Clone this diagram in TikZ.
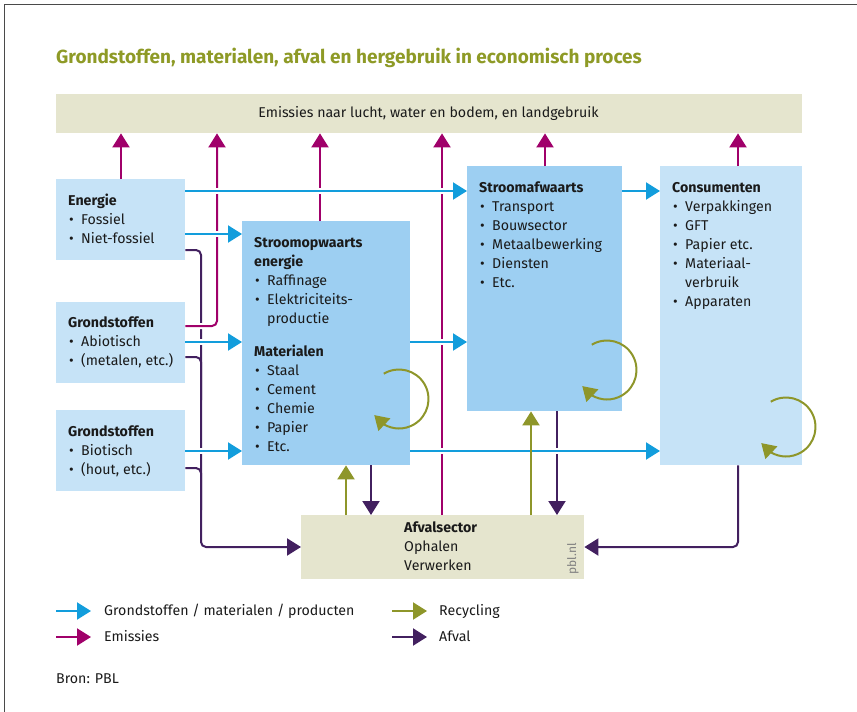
\documentclass[tikz,border=0pt]{standalone}
\usepackage{fontspec}
\setmainfont{Fira Sans}
\usetikzlibrary{arrows.meta,bending}
\definecolor{ltblue}{HTML}{C6E3F7}
\definecolor{dkblue}{HTML}{9DCFF2}
\definecolor{beige}{HTML}{E5E5CE}
\definecolor{flowc}{HTML}{129DDC}
\definecolor{emic}{HTML}{A0006A}
\definecolor{recc}{HTML}{8E962A}
\definecolor{afvc}{HTML}{42205F}
\definecolor{titlec}{HTML}{8E9A26}
\definecolor{txtc}{HTML}{1A1A1A}
\definecolor{framec}{HTML}{4A4A4A}
\newcommand\bodyfont{\fontsize{14.2}{17}\selectfont}
\begin{document}
\begin{tikzpicture}[x=1pt,y=1pt,
  tx/.style={anchor=base west, inner sep=0, font=\bodyfont, text=txtc},
  hd/.style={tx, font=\bodyfont\bfseries},
  boxnode/.style={anchor=north west, inner sep=0, draw=none},
  lb/.style={boxnode, fill=ltblue},
  db/.style={boxnode, fill=dkblue},
  bg/.style={boxnode, fill=beige},
  tip/.style={-{Triangle[length=14pt,width=17pt]}},
  flow/.style={draw=flowc, line width=2pt, tip, preaction={draw=white, line width=6pt, -}},
  emi/.style={draw=emic, line width=2pt, tip, preaction={draw=white, line width=6pt, -}},
  rec/.style={draw=recc, line width=2pt, tip},
  afv/.style={draw=afvc, line width=2pt, tip},
  afvline/.style={draw=afvc, line width=2pt},
]
\useasboundingbox (0,0) rectangle (857,-712);
\draw[framec, line width=1.5pt] (4.5,-712) -- (4.5,-4.5) -- (857,-4.5);

% title
\node[anchor=base west, inner sep=0, font=\fontsize{19}{22}\selectfont\bfseries, text=titlec] (title) at (56,-63) {Grondstoffen, materialen, afval en hergebruik in economisch proces};

% boxes
\node[bg, minimum width=746, minimum height=39] (band) at (56,-94) {};
\node[lb, minimum width=129, minimum height=81] (energie) at (56,-179) {};
\node[lb, minimum width=129, minimum height=81] (abio) at (56,-302) {};
\node[lb, minimum width=129, minimum height=81] (bio) at (56,-410) {};
\node[db, minimum width=168, minimum height=244] (sop) at (242,-221) {};
\node[db, minimum width=155, minimum height=245] (saf) at (467,-166) {};
\node[lb, minimum width=142, minimum height=299] (con) at (660,-166) {};
\node[bg, minimum width=283, minimum height=64] (afval) at (301,-515) {};

% waste (afval) lines
\draw[afv, rounded corners=5pt] (energie.east |- 0,-250) -- (201,-250) -- (201,-547) -- (afval.west |- 0,-547);
\draw[afvline, rounded corners=5pt] (abio.east |- 0,-357) -- (201,-357) -- (201,-400);
\draw[afvline, rounded corners=5pt] (bio.east |- 0,-468) -- (201,-468) -- (201,-510);
\draw[afv] (sop.south -| 371,0) -- (afval.north -| 371,0);
\draw[afv] (saf.south -| 557,0) -- (afval.north -| 557,0);
\draw[afv, rounded corners=5pt] (con.south -| 738,0) -- (738,-547) -- (afval.east |- 0,-547);

% emissions
\draw[emi] (energie.north -| 121,0) -- (band.south -| 121,0);
\draw[emi, rounded corners=5pt] (abio.east |- 0,-326) -- (217,-326) -- (band.south -| 217,0);
\draw[emi] (sop.north -| 320,0) -- (band.south -| 320,0);
\draw[emi] (afval.north -| 442,0) -- (band.south -| 442,0);
\draw[emi] (saf.north -| 545,0) -- (band.south -| 545,0);
\draw[emi] (con.north -| 738,0) -- (band.south -| 738,0);

% material flows
\draw[flow] (energie.east |- 0,-191) -- (saf.west |- 0,-191);
\draw[flow] (energie.east |- 0,-234) -- (sop.west |- 0,-234);
\draw[flow] (abio.east |- 0,-342) -- (sop.west |- 0,-342);
\draw[flow] (bio.east |- 0,-451) -- (sop.west |- 0,-451);
\draw[flow] (sop.east |- 0,-342) -- (saf.west |- 0,-342);
\draw[flow] (saf.east |- 0,-191) -- (con.west |- 0,-191);
\draw[flow] (sop.east |- 0,-451) -- (con.west |- 0,-451);

% recycling
\draw[rec] (afval.north -| 346,0) -- (sop.south -| 346,0);
\draw[rec] (afval.north -| 531,0) -- (saf.south -| 531,0);
\coordinate (c1) at (399,-399);
\coordinate (c2) at (607,-370);
\coordinate (c3) at (786,-427);
\draw[rec] (c1) ++(121:29.5) arc[start angle=121, end angle=-147, radius=29.5];
\draw[rec] (c2) ++(121:29.5) arc[start angle=121, end angle=-147, radius=29.5];
\draw[rec] (c3) ++(121:29.5) arc[start angle=121, end angle=-147, radius=29.5];

% texts
\node[tx, anchor=base] (bandt) at (428.5,-117) {Emissies naar lucht, water en bodem, en landgebruik};

\node[hd] (t1) at (68,-205) {Energie};
\node[tx] (t1a) at (69,-224) {•}; \node[tx] (t1b) at (81,-224) {Fossiel};
\node[tx] (t1c) at (69,-243) {•}; \node[tx] (t1d) at (81,-243) {Niet-fossiel};

\node[hd] (t2) at (68,-327) {Grondstoffen};
\node[tx] (t2a) at (69,-346) {•}; \node[tx] (t2b) at (81,-346) {Abiotisch};
\node[tx] (t2c) at (69,-365) {•}; \node[tx] (t2d) at (81,-365) {(metalen, etc.)};

\node[hd] (t3) at (68,-436) {Grondstoffen};
\node[tx] (t3a) at (69,-455) {•}; \node[tx] (t3b) at (81,-455) {Biotisch};
\node[tx] (t3c) at (69,-474) {•}; \node[tx] (t3d) at (81,-474) {(hout, etc.)};

\node[hd] (t4) at (254,-247) {Stroomopwaarts};
\node[hd] (t4x) at (254,-266) {energie};
\node[tx] (t4a) at (255,-285) {•}; \node[tx] (t4b) at (267,-285) {Raffinage};
\node[tx] (t4c) at (255,-304) {•}; \node[tx] (t4d) at (267,-304) {Elektriciteits-};
\node[tx] (t4e) at (267,-323) {productie};
\node[hd] (t5) at (254,-356) {Materialen};
\node[tx] (t5a) at (255,-375) {•}; \node[tx] (t5b) at (267,-375) {Staal};
\node[tx] (t5c) at (255,-394) {•}; \node[tx] (t5d) at (267,-394) {Cement};
\node[tx] (t5e) at (255,-413) {•}; \node[tx] (t5f) at (267,-413) {Chemie};
\node[tx] (t5g) at (255,-432) {•}; \node[tx] (t5h) at (267,-432) {Papier};
\node[tx] (t5i) at (255,-451) {•}; \node[tx] (t5j) at (267,-451) {Etc.};

\node[hd] (t6) at (479,-192) {Stroomafwaarts};
\node[tx] (t6a) at (480,-211) {•}; \node[tx] (t6b) at (492,-211) {Transport};
\node[tx] (t6c) at (480,-230) {•}; \node[tx] (t6d) at (492,-230) {Bouwsector};
\node[tx] (t6e) at (480,-249) {•}; \node[tx] (t6f) at (492,-249) {Metaalbewerking};
\node[tx] (t6g) at (480,-268) {•}; \node[tx] (t6h) at (492,-268) {Diensten};
\node[tx] (t6i) at (480,-287) {•}; \node[tx] (t6j) at (492,-287) {Etc.};

\node[hd] (t7) at (672,-192) {Consumenten};
\node[tx] (t7a) at (673,-211) {•}; \node[tx] (t7b) at (685,-211) {Verpakkingen};
\node[tx] (t7c) at (673,-230) {•}; \node[tx] (t7d) at (685,-230) {GFT};
\node[tx] (t7e) at (673,-249) {•}; \node[tx] (t7f) at (685,-249) {Papier etc.};
\node[tx] (t7g) at (673,-268) {•}; \node[tx] (t7h) at (685,-268) {Materiaal-};
\node[tx] (t7i) at (685,-287) {verbruik};
\node[tx] (t7j) at (673,-306) {•}; \node[tx] (t7k) at (685,-306) {Apparaten};

\node[hd] (t8) at (404,-532) {Afvalsector};
\node[tx] (t8a) at (404,-551) {Ophalen};
\node[tx] (t8b) at (404,-570) {Verwerken};
\node[inner sep=0, rotate=90, font=\fontsize{12}{14}\selectfont, text=gray] (pbl) at (573,-559) {pbl.nl};

% legend
\coordinate (l1s) at (56,-611); \coordinate (l1e) at (91,-611);
\coordinate (l2s) at (56,-637); \coordinate (l2e) at (91,-637);
\coordinate (l3s) at (392,-611); \coordinate (l3e) at (427,-611);
\coordinate (l4s) at (392,-637); \coordinate (l4e) at (427,-637);
\draw[draw=flowc, line width=2pt, tip] (l1s) -- (l1e);
\draw[draw=emic, line width=2pt, tip] (l2s) -- (l2e);
\draw[rec] (l3s) -- (l3e);
\draw[afv] (l4s) -- (l4e);
\node[tx] (lg1) at (104,-615) {Grondstoffen / materialen / producten};
\node[tx] (lg2) at (104,-641) {Emissies};
\node[tx] (lg3) at (439,-615) {Recycling};
\node[tx] (lg4) at (439,-641) {Afval};
\node[tx] (bron) at (56,-683) {Bron: PBL};
\end{tikzpicture}
\end{document}
